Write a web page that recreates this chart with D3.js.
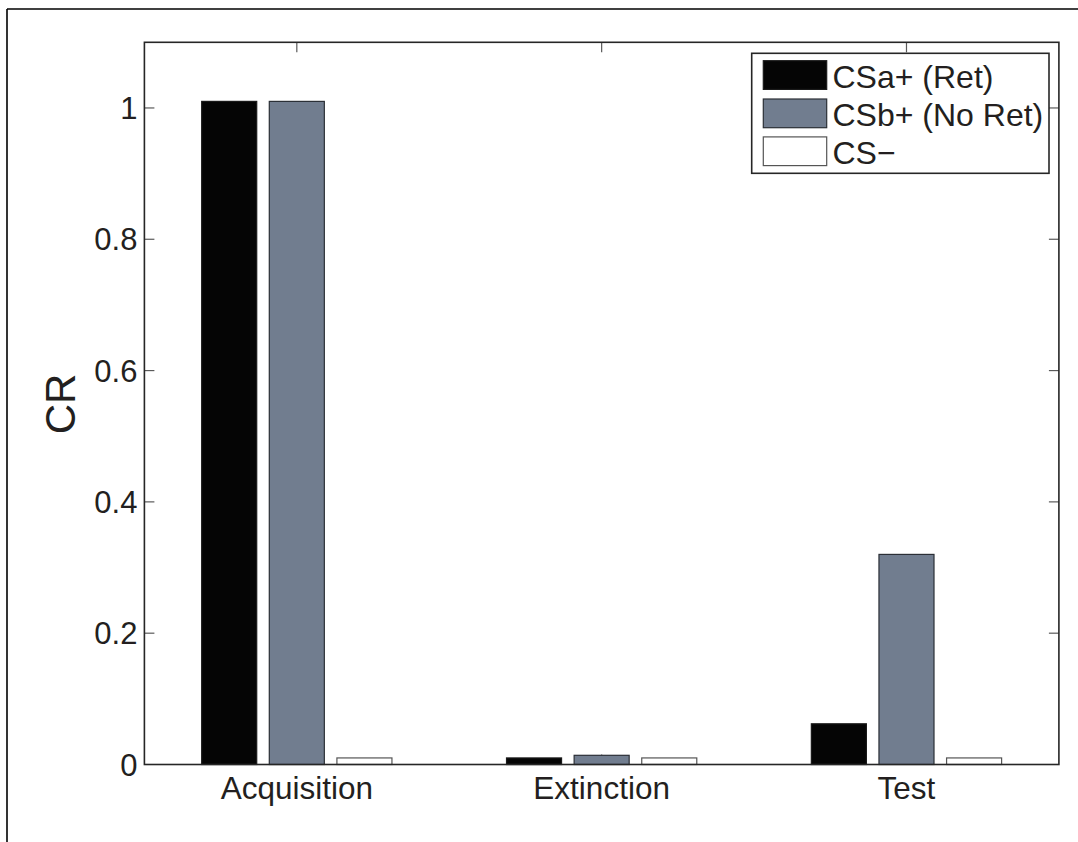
<!DOCTYPE html>
<html>
<head>
<meta charset="utf-8">
<script src="https://cdn.jsdelivr.net/npm/d3@7"></script>
<style>
  html, body { margin: 0; padding: 0; background: #fff; }
  svg { display: block; }
  text { font-family: "Liberation Sans", Arial, Helvetica, sans-serif; fill: #231f20; }
</style>
</head>
<body>
<svg id="chart" width="1078" height="842"></svg>
<script>
// Phases of the conditioning experiment
const phases = ["Acquisition", "Extinction", "Test"];
// Series names shown in the legend
const seriesNames = ["CSa+ (Ret)", "CSb+ (No Ret)", "CS\u2212"];
// Conditioned responses per phase, one array per series
const csaRet   = [1.01, 0.010, 0.062];
const csbNoRet = [1.01, 0.014, 0.32];
const csMinus  = [0.010, 0.010, 0.010];
// Y axis tick values and labels
const yTicks = [0, 0.2, 0.4, 0.6, 0.8, 1];
const yTickLabels = ["0", "0.2", "0.4", "0.6", "0.8", "1"];

const seriesValues = [csaRet, csbNoRet, csMinus];
const fills   = ["#050505", "#717d8f", "#ffffff"];
const strokes = ["#1a1a1a", "#2b2f36", "#555555"];

const svg = d3.select("#chart");

// outer frame lines (top and left)
svg.append("line").attr("x1", 7).attr("y1", 9).attr("x2", 1078).attr("y2", 9)
  .attr("stroke", "#000").attr("stroke-width", 1.6);
svg.append("line").attr("x1", 7).attr("y1", 9).attr("x2", 7).attr("y2", 842)
  .attr("stroke", "#000").attr("stroke-width", 1.6);

const box = { left: 144.4, right: 1058.9, top: 42.3, bottom: 764.5 };

const x = d3.scaleBand().domain(phases).range([box.left, box.right]).paddingInner(0).paddingOuter(0);
const y = d3.scaleLinear().domain([0, 1.1]).range([box.bottom, box.top]);

// position of each series inside a phase group
const groupSpan = x.bandwidth() * 0.2218 * 3;
const inner = d3.scaleBand().domain(d3.range(seriesNames.length))
  .range([-groupSpan / 2, groupSpan / 2])
  .paddingInner(0.186).paddingOuter(0.093);

const tickLen = 10;
const tickColor = "#5a5a5a";

// ticks on the bottom and top edges (drawn under the bars)
const xTickG = svg.append("g");
phases.forEach(p => {
  const cx = x(p) + x.bandwidth() / 2;
  xTickG.append("line").attr("x1", cx).attr("x2", cx)
    .attr("y1", box.bottom).attr("y2", box.bottom - tickLen)
    .attr("stroke", tickColor).attr("stroke-width", 1.2);
  xTickG.append("line").attr("x1", cx).attr("x2", cx)
    .attr("y1", box.top).attr("y2", box.top + tickLen)
    .attr("stroke", tickColor).attr("stroke-width", 1.2);
});

// bars
const barData = [];
phases.forEach((p, i) => {
  seriesValues.forEach((vals, s) => barData.push({ phase: p, s, v: vals[i] }));
});
svg.append("g").selectAll("rect").data(barData).join("rect")
  .attr("x", d => x(d.phase) + x.bandwidth() / 2 + inner(d.s))
  .attr("width", inner.bandwidth())
  .attr("y", d => y(d.v))
  .attr("height", d => y(0) - y(d.v))
  .attr("fill", d => fills[d.s])
  .attr("stroke", d => strokes[d.s])
  .attr("stroke-width", 1.2);

// y ticks on left and right edges
const yTickG = svg.append("g");
yTicks.forEach(t => {
  if (t === 0) return;
  yTickG.append("line").attr("x1", box.left).attr("x2", box.left + tickLen)
    .attr("y1", y(t)).attr("y2", y(t)).attr("stroke", tickColor).attr("stroke-width", 1.2);
  yTickG.append("line").attr("x1", box.right).attr("x2", box.right - tickLen)
    .attr("y1", y(t)).attr("y2", y(t)).attr("stroke", tickColor).attr("stroke-width", 1.2);
});

// axes box
svg.append("rect").attr("x", box.left).attr("y", box.top)
  .attr("width", box.right - box.left).attr("height", box.bottom - box.top)
  .attr("fill", "none").attr("stroke", "#262626").attr("stroke-width", 1.6);

// y tick labels
svg.append("g").selectAll("text").data(yTicks).join("text")
  .attr("x", box.left - 7)
  .attr("y", d => y(d))
  .attr("dy", "0.36em")
  .attr("text-anchor", "end")
  .attr("font-size", 31)
  .text((d, i) => yTickLabels[i]);

// x tick labels
svg.append("g").selectAll("text").data(phases).join("text")
  .attr("x", d => x(d) + x.bandwidth() / 2)
  .attr("y", 799)
  .attr("text-anchor", "middle")
  .attr("font-size", 31.5)
  .text(d => d);

// y axis title
svg.append("text")
  .attr("transform", "translate(75,404) rotate(-90)")
  .attr("text-anchor", "middle")
  .attr("font-size", 42)
  .text("CR");

// legend
const lg = svg.append("g");
lg.append("rect").attr("x", 751.7).attr("y", 53.3).attr("width", 297.3).attr("height", 120)
  .attr("fill", "#fff").attr("stroke", "#262626").attr("stroke-width", 1.6);
const rowY = [60.7, 99, 136.9];
seriesNames.forEach((name, s) => {
  lg.append("rect").attr("x", 763.3).attr("y", rowY[s]).attr("width", 63.4).attr("height", 28.7)
    .attr("fill", fills[s]).attr("stroke", strokes[s]).attr("stroke-width", 1.2);
  lg.append("text").attr("x", 832.5).attr("y", rowY[s] + 26.8)
    .attr("font-size", 32).text(name);
});
</script>
</body>
</html>
